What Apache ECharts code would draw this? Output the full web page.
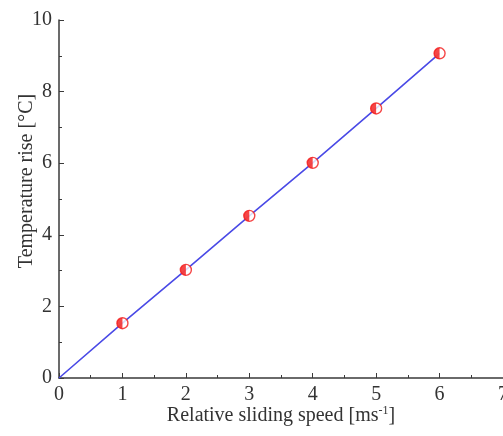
<!DOCTYPE html>
<html>
<head>
<meta charset="utf-8">
<script src="https://cdn.jsdelivr.net/npm/echarts@6/dist/echarts.min.js"></script>
<style>
  html, body { margin: 0; padding: 0; background: #fff; }
  #chart { width: 503px; height: 436px; }
</style>
</head>
<body>
<div id="chart"></div>
<script>
// relative sliding speed (m/s) vs temperature rise (°C)
const speed = [0, 1, 2, 3, 4, 5, 6];
const tempRise = [0, 1.53, 3.02, 4.53, 6.01, 7.53, 9.07];

const xTicks = [0, 7, 1];
const yTicks = [0, 10, 2];

const pts = speed.map((s, i) => [s, tempRise[i]]);
const markPts = pts.slice(1);

const font = '"Liberation Serif", "DejaVu Serif", serif';
const axisCol = '#3a3a3a';

const chart = echarts.init(document.getElementById('chart'));
chart.setOption({
  animation: false,
  backgroundColor: '#fff',
  grid: { left: 59, right: 0, top: 20, bottom: 58, outerBoundsMode: 'none', containLabel: false },
  xAxis: {
    type: 'value',
    min: xTicks[0], max: xTicks[1], interval: xTicks[2],
    name: 'Relative sliding speed [ms{sup|-1}]',
    nameLocation: 'middle',
    nameMoveOverlap: false,
    nameGap: 27,
    nameTextStyle: {
      fontFamily: font, fontSize: 20, color: '#333', verticalAlign: 'top',
      rich: { sup: { fontFamily: font, fontSize: 12, color: '#333', verticalAlign: 'top', padding: [0, 0, 9, 0] } }
    },
    axisLine: { show: true, onZero: false, lineStyle: { color: axisCol, width: 1.5 } },
    axisTick: { show: true, inside: true, length: 5, lineStyle: { color: axisCol } },
    minorTick: { show: true, splitNumber: 2, length: 3, lineStyle: { color: axisCol } },
    axisLabel: { fontFamily: font, fontSize: 20, color: '#333', margin: 7, showMaxLabel: true },
    splitLine: { show: false }
  },
  yAxis: {
    type: 'value',
    min: yTicks[0], max: yTicks[1], interval: yTicks[2],
    name: 'Temperature rise [°C]',
    nameLocation: 'middle',
    nameMoveOverlap: false,
    nameGap: 22,
    nameTextStyle: { fontFamily: font, fontSize: 20, color: '#333', padding: [0, 0, 0, 36] },
    axisLine: { show: true, onZero: false, lineStyle: { color: axisCol, width: 1.5 } },
    axisTick: { show: true, inside: true, length: 5, lineStyle: { color: axisCol } },
    minorTick: { show: true, splitNumber: 2, length: 3, lineStyle: { color: axisCol } },
    axisLabel: { fontFamily: font, fontSize: 20, color: '#333', margin: 7 },
    splitLine: { show: false }
  },
  series: [
    {
      type: 'line',
      data: pts,
      showSymbol: false,
      lineStyle: { color: '#4a4ae6', width: 1.6 },
      z: 2
    },
    {
      type: 'scatter',
      data: markPts,
      symbol: 'circle',
      symbolSize: 11,
      itemStyle: { color: '#fff', borderColor: '#f21818', borderWidth: 1.4 },
      z: 3
    },
    {
      type: 'scatter',
      data: markPts,
      symbol: 'path://M50,0 A50,50 0 0,0 50,100 Z',
      symbolSize: [5.5, 11],
      symbolOffset: [-2.75, 0],
      itemStyle: { color: '#f21818' },
      z: 4
    }
  ]
});
</script>
</body>
</html>
